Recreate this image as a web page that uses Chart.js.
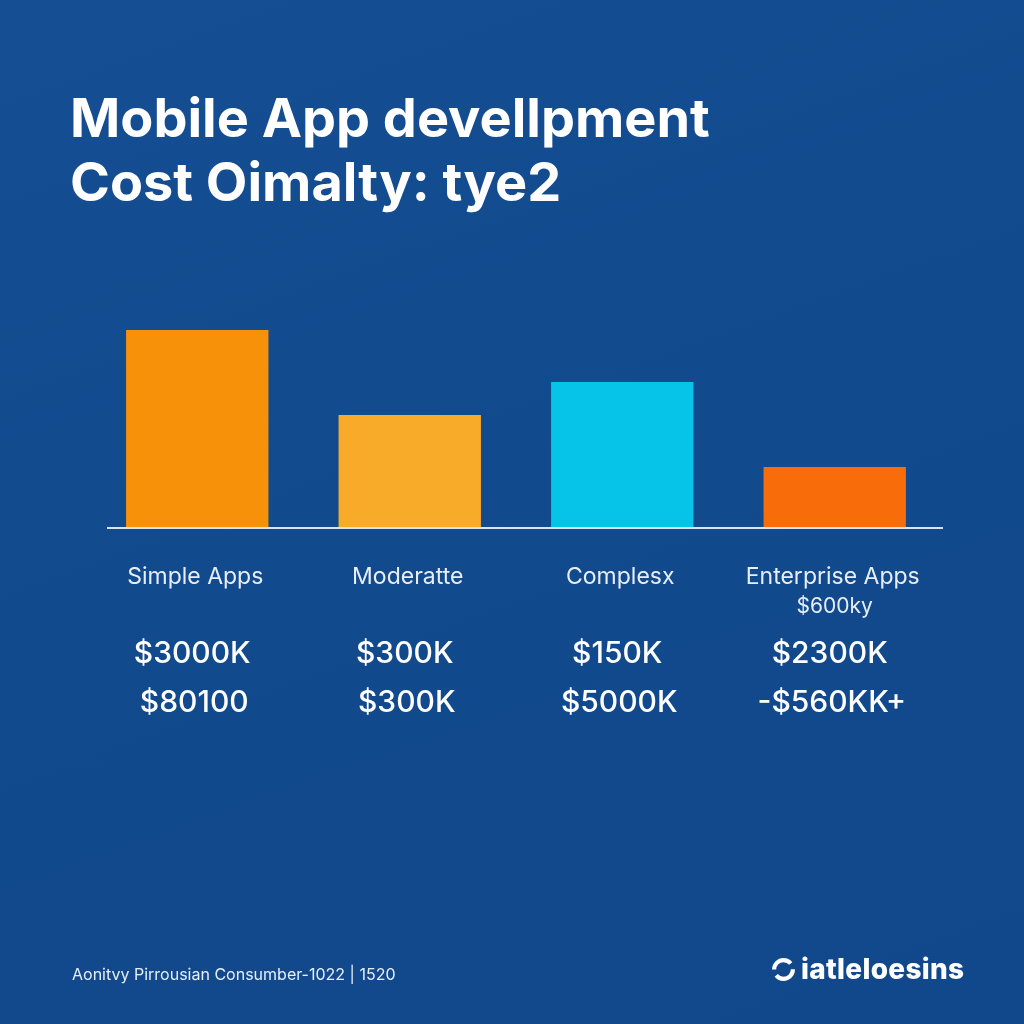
<!DOCTYPE html>
<html>
<head>
<meta charset="utf-8">
<script src="https://cdn.jsdelivr.net/npm/chart.js@4"></script>
<style>
  html, body { margin: 0; padding: 0; }
  body {
    width: 1024px; height: 1024px; overflow: hidden; position: relative;
    background: linear-gradient(160deg, #164e93 0%, #124a8e 45%, #11488b 100%);
    font-family: Inter, "Open Sans", sans-serif; color: #fff;
  }
  #title {
    position: absolute; left: 70px; top: 86px; margin: 0;
    font-size: 54px; line-height: 64px; font-weight: 700; letter-spacing: 0;
  }
  #source {
    position: absolute; left: 72px; top: 964px;
    font-size: 16px; color: #e6eef8;
  }
  #logo {
    position: absolute; left: 771px; top: 952px;
    font-size: 28px; font-weight: 800; letter-spacing: 0.3px;
    display: flex; align-items: center; gap: 5px;
  }
  #chartBox { position: absolute; left: 0; top: 0; width: 1024px; height: 1024px; }
</style>
</head>
<body>
<div id="chartBox"><canvas id="costChart"></canvas></div>
<h1 id="title">Mobile App devellpment<br>Cost Oimalty: tye2</h1>
<div id="source">Aonitvy Pirrousian Consumber-1022 | 1520</div>
<div id="logo">
  <svg width="25" height="25" viewBox="0 0 24 24"><circle cx="12" cy="12" r="9" fill="none" stroke="#fff" stroke-width="4" stroke-dasharray="22 6"/></svg>
  <span>iatleloesins</span>
</div>
<script>
// chart data
const categories = ["Simple Apps", "Moderatte", "Complesx", "Enterprise Apps"];
const subLabels = ["", "", "", "$600ky"];
const costValues = [197, 112, 145, 60];
const rowOne = ["$3000K", "$300K", "$150K", "$2300K"];
const rowTwo = ["$80100", "$300K", "$5000K", "-$560KK+"];
const barColors = ["#f8910a", "#f8ab28", "#06c4e8", "#f86c0a"];

// draws the baseline and the label rows under each bar
const labelRows = {
    id: "labelRows",
    afterDatasetsDraw(chart) {
        const ctx = chart.ctx;
        const xScale = chart.scales.x;
        const base = chart.chartArea.bottom;
        ctx.save();
        ctx.strokeStyle = "#d6e4f2";
        ctx.lineWidth = 2;
        ctx.beginPath();
        ctx.moveTo(107, base + 1);
        ctx.lineTo(943, base + 1);
        ctx.stroke();

        ctx.textAlign = "center";
        ctx.textBaseline = "middle";
        categories.forEach((cat, i) => {
            const x = xScale.getPixelForValue(i);
            ctx.fillStyle = "#e8eef7";
            ctx.font = "23px Inter, 'Open Sans', sans-serif";
            ctx.fillText(cat, x - 2, base + 50);
            if (subLabels[i]) {
                ctx.font = "21px Inter, 'Open Sans', sans-serif";
                ctx.fillText(subLabels[i], x, base + 80);
            }
            ctx.fillStyle = "#ffffff";
            ctx.font = "500 30px Inter, 'Open Sans', sans-serif";
            ctx.fillText(rowOne[i], x - 5, base + 127);
            ctx.fillText(rowTwo[i], x - 3, base + 176);
        });
        ctx.restore();
    }
};

new Chart(document.getElementById("costChart"), {
    type: "bar",
    data: {
        labels: categories,
        datasets: [{
            data: costValues,
            backgroundColor: barColors,
            borderWidth: 0,
            barPercentage: 0.67,
            categoryPercentage: 1
        }]
    },
    options: {
        responsive: true,
        maintainAspectRatio: false,
        animation: false,
        layout: { padding: { left: 91, right: 83, top: 327, bottom: 497 } },
        plugins: { legend: { display: false }, tooltip: { enabled: false } },
        scales: {
            x: { display: false },
            y: { display: false, min: 0, max: 200 }
        }
    },
    plugins: [labelRows]
});
</script>
</body>
</html>
